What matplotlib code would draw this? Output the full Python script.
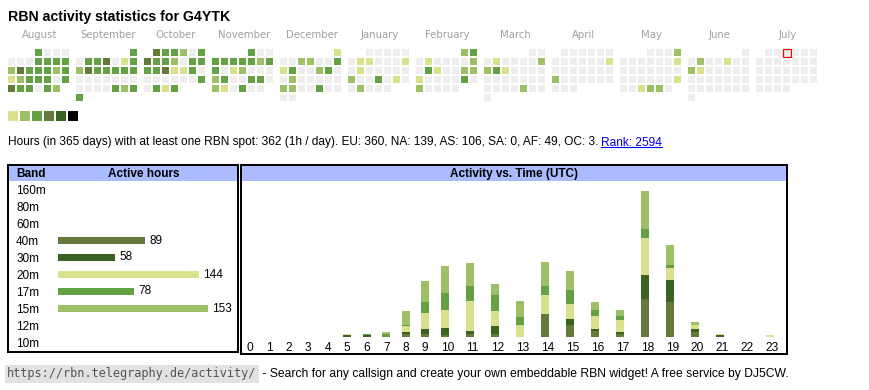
import datetime as dt

import matplotlib
matplotlib.use("Agg")
import matplotlib.pyplot as plt
from matplotlib.patches import Rectangle
import numpy as np

W, H = 870, 390
SANS = ["Liberation Sans", "DejaVu Sans"]

# calendar: one string per month, activity level per day (0 = none),
# weeks (Mon..Sun) separated by spaces
FIRST_MONTH = dt.date(2024, 8, 1)
TODAY = dt.date(2025, 7, 3)
MONTHS = ["August", "September", "October", "November", "December", "January",
          "February", "March", "April", "May", "June", "July"]
DAY_LEVELS = [
    "3000 0003333 2433323 1233303 433032",
    "3 0334013 2433333 0000000 0000323 3",
    "433203 4332033 3341130 0000003 0313",
    "300 3333323 3012000 2300330 210300",
    "1 0022003 1300230 0200000 2200300 00",
    "00000 0110001 0100000 2003010 02000",
    "23 0100002 0310022 1000030 20000",
    "00 0100002 2310000 0000000 0000200 0",
    "000000 0000001 0000000 2000000 000",
    "0002 0000001 0000000 0000001 001220",
    "0 0200100 2100000 0000000 0000000 0",
    "000000 0000000 0000000 0000000 0000",
]
LEVEL_COLORS = ["#eeeeee", "#dae18c", "#9dc066", "#64a044", "#647a3a",
                "#3a6223", "#000000"]

STATS = ("Hours (in 365 days) with at least one RBN spot: 362 (1h / day). "
         "EU: 360, NA: 139, AS: 106, SA: 0, AF: 49, OC: 3. ")
RANK = "Rank: 2594"

# band table
BANDS = ["160m", "80m", "60m", "40m", "30m", "20m", "17m", "15m", "12m", "10m"]
BAND_HOURS = [0, 0, 0, 89, 58, 144, 78, 153, 0, 0]
BAND_COLORS = {"40m": "#647a3a", "30m": "#3a6223", "20m": "#dae18c",
               "17m": "#64a044", "15m": "#9dc066"}

# activity vs. time (UTC), stacked bottom -> top
HOURS = list(range(24))
HOURLY = {
    "40m": [0, 0, 0, 0, 0, 0, 0, 0, 2, 2, 1, 2, 2, 0, 15, 8, 4, 2, 25, 23, 3, 0, 0, 0],
    "30m": [0, 0, 0, 0, 0, 1, 1, 0, 1, 3, 5, 2, 5, 0, 0, 4, 1, 1, 16, 15, 2, 1, 0, 0],
    "20m": [0, 0, 0, 0, 0, 1, 0, 0, 4, 11, 12, 20, 10, 8, 13, 10, 9, 8, 25, 8, 3, 1, 0, 1],
    "17m": [0, 0, 0, 0, 0, 0, 1, 2, 1, 7, 11, 10, 11, 5, 6, 9, 4, 3, 6, 2, 0, 0, 0, 0],
    "15m": [0, 0, 0, 0, 0, 0, 0, 1, 9, 14, 18, 15, 7, 11, 16, 13, 5, 4, 25, 13, 2, 0, 0, 0],
}

HEADER_BG = "#aabbff"


def px_axes(fig, x0, y0, x1, y1):
    """Axes placed in pixel coordinates measured from the top-left corner."""
    return fig.add_axes([x0 / W, 1 - y1 / H, (x1 - x0) / W, (y1 - y0) / H])


def month_start(i):
    m = FIRST_MONTH.month - 1 + i
    return dt.date(FIRST_MONTH.year + m // 12, m % 12 + 1, 1)


fig = plt.figure(figsize=(W / 100, H / 100), dpi=100)
fig.patch.set_facecolor("white")

canvas = fig.add_axes([0, 0, 1, 1])
canvas.set_xlim(0, W)
canvas.set_ylim(H, 0)
canvas.axis("off")

canvas.text(8, 20.5, "RBN activity statistics for G4YTK", family=SANS,
            fontsize=10.2, fontweight="bold", va="baseline")

# calendar heatmap
for m, (name, levels) in enumerate(zip(MONTHS, DAY_LEVELS)):
    start = month_start(m)
    x_block = 8.3 + m * 68
    canvas.text(x_block + 31.5, 35, name, ha="center", va="center",
                fontsize=7.3, color="#a0a0a0", family="DejaVu Sans")
    days = levels.replace(" ", "")
    for d, lvl in enumerate(days):
        day = start + dt.timedelta(days=d)
        row = (d + start.weekday()) // 7
        x = x_block + day.weekday() * 9
        y = 49 + row * 9
        if day == TODAY:
            canvas.add_patch(Rectangle((x - 0.5, y - 0.5), 8, 8, facecolor=LEVEL_COLORS[0],
                                       edgecolor="red", linewidth=0.9))
        else:
            canvas.add_patch(Rectangle((x, y), 7, 7, facecolor=LEVEL_COLORS[int(lvl)],
                                       linewidth=0))

for i, c in enumerate(LEVEL_COLORS[1:]):
    canvas.add_patch(Rectangle((8.3 + 12 * i, 110.7), 10, 10, facecolor=c, linewidth=0))

# stats line with the blue link
stats = canvas.text(8, 145.5, STATS, family=SANS, fontsize=8.55, va="baseline")
fig.canvas.draw()
renderer = fig.canvas.get_renderer()
inv = canvas.transData.inverted()
x_end = inv.transform(stats.get_window_extent(renderer).p1)[0]
rank = canvas.text(x_end - 1, 145.5, RANK, family=SANS, fontsize=8.55, va="baseline",
                   color="#0000ee")
fig.canvas.draw()
rb = rank.get_window_extent(renderer)
rx0, rx1 = inv.transform(rb.p0)[0], inv.transform(rb.p1)[0]
canvas.plot([rx0, rx1], [147.2, 147.2], color="#0000ee", linewidth=0.8)

# boxes and headers
canvas.add_patch(Rectangle((8.3, 165), 230, 187.3, facecolor="white",
                           edgecolor="black", linewidth=1.45))
canvas.add_patch(Rectangle((9.3, 166), 228, 15, facecolor=HEADER_BG, linewidth=0))
canvas.add_patch(Rectangle((241, 165), 546, 188.7, facecolor="white",
                           edgecolor="black", linewidth=1.45))
canvas.add_patch(Rectangle((242, 166), 544, 15, facecolor=HEADER_BG, linewidth=0))
canvas.text(16.5, 176.7, "Band", family=SANS, fontsize=8.5, fontweight="bold",
            va="baseline")
canvas.text(144, 176.7, "Active hours", family=SANS, fontsize=8.5, fontweight="bold",
            va="baseline", ha="center")
canvas.text(514, 176.7, "Activity vs. Time (UTC)", family=SANS, fontsize=8.5,
            fontweight="bold", va="baseline", ha="center")

# band table bars
ax_b = px_axes(fig, 58, 181, 236, 351)
ypos = np.arange(len(BANDS))
colors = [BAND_COLORS.get(b, "#cccccc") for b in BANDS]
bars = ax_b.barh(ypos, BAND_HOURS, height=7 / 17, color=colors, linewidth=0)
ax_b.bar_label(bars, labels=[str(v) if v else "" for v in BAND_HOURS], padding=3,
               fontsize=8.5, family=SANS)
ax_b.set_xlim(0, 178 / 0.98)
ax_b.set_ylim(len(BANDS) - 0.5, -0.5)
ax_b.set_yticks(ypos)
ax_b.set_yticklabels(BANDS, fontsize=8.5, family=SANS)
ax_b.tick_params(axis="y", length=0, pad=30.2)
plt.setp(ax_b.get_yticklabels(), ha="left")
ax_b.set_xticks([])
for s in ax_b.spines.values():
    s.set_visible(False)
ax_b.patch.set_visible(False)

# activity vs. time stacked bars
cell_w = np.array([19.5 if h < 10 else 25.0 for h in HOURS])
cell_left = np.concatenate([[0.0], np.cumsum(cell_w)[:-1]])
bar_x = cell_left + 9.75
label_x = cell_left + cell_w / 2

ax_t = px_axes(fig, 240, 181, 788, 336.7)
bottom = np.zeros(len(HOURS))
for band, vals in HOURLY.items():
    ax_t.bar(bar_x, vals, width=8, bottom=bottom, color=BAND_COLORS[band], linewidth=0)
    bottom += np.array(vals)
ax_t.set_xlim(0, 548)
ax_t.set_ylim(0, 155.7 / 1.5)
ax_t.set_xticks(label_x)
ax_t.set_xticklabels([str(h) for h in HOURS], fontsize=8.6, family=SANS)
ax_t.tick_params(axis="x", length=0, pad=3.5)
ax_t.set_yticks([])
for s in ax_t.spines.values():
    s.set_visible(False)
ax_t.patch.set_visible(False)

# footer
url = canvas.text(7, 374, "https://rbn.telegraphy.de/activity/", family="DejaVu Sans Mono",
                  fontsize=8.6, color="#555555", va="center",
                  bbox=dict(boxstyle="square,pad=0.2", facecolor="#e2e2e2", edgecolor="none"))
fig.canvas.draw()
ux = inv.transform(url.get_bbox_patch().get_window_extent(renderer).p1)[0]
canvas.text(ux, 374,
            " - Search for any callsign and create your own embeddable RBN widget! "
            "A free service by DJ5CW.",
            family=SANS, fontsize=8.7, va="center")

fig.savefig("out.png", dpi=100)
